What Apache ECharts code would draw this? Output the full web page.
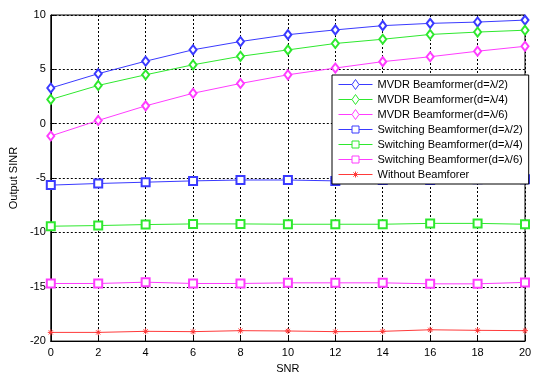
<!DOCTYPE html>
<html>
<head>
<meta charset="utf-8">
<script src="https://cdn.jsdelivr.net/npm/echarts@6/dist/echarts.min.js"></script>
<style>
  html, body { margin: 0; padding: 0; background: #fff; }
  #chart { width: 539px; height: 379px; }
</style>
</head>
<body>
<div id="chart"></div>
<script>
// SNR values (x axis)
const snr = [0, 2, 4, 6, 8, 10, 12, 14, 16, 18, 20];

// Output SINR per method
const mvdrL2 = [3.28, 4.6, 5.75, 6.8, 7.56, 8.19, 8.63, 9.02, 9.23, 9.35, 9.53];
const mvdrL4 = [2.23, 3.52, 4.5, 5.42, 6.2, 6.79, 7.38, 7.77, 8.21, 8.43, 8.6];
const mvdrL6 = [-1.13, 0.3, 1.64, 2.8, 3.7, 4.5, 5.12, 5.71, 6.16, 6.67, 7.12];
const switchL2 = [-5.65, -5.5, -5.38, -5.26, -5.18, -5.18, -5.26, -5.18, -5.18, -5.12, -5.12];
const switchL4 = [-9.43, -9.37, -9.28, -9.22, -9.22, -9.25, -9.25, -9.25, -9.17, -9.17, -9.25];
const switchL6 = [-14.7, -14.7, -14.58, -14.7, -14.7, -14.64, -14.64, -14.64, -14.73, -14.73, -14.6];
const noBeam = [-19.2, -19.2, -19.1, -19.13, -19.04, -19.07, -19.13, -19.1, -18.96, -19.01, -19.04];

const names = [
  'MVDR Beamformer(d=\u03bb/2)',
  'MVDR Beamformer(d=\u03bb/4)',
  'MVDR Beamformer(d=\u03bb/6)',
  'Switching Beamformer(d=\u03bb/2)',
  'Switching Beamformer(d=\u03bb/4)',
  'Switching Beamformer(d=\u03bb/6)',
  'Without Beamforer'
];
const colors = ['#3a3aff', '#2ee82e', '#ff3cff', '#3a3aff', '#2ee82e', '#ff3cff', '#ff3a3a'];

const starPath = 'path://M0,-10L0,10M-10,0L10,0M-7,-7L7,7M-7,7L7,-7';

// legend icons: line sample with the hollow marker in the middle
const iconDiamond = 'path://M0,5H13.5M20.5,5H34M17,0L20.5,5L17,10L13.5,5Z';
const iconRect = 'path://M0,5H13.5M20.5,5H34M13.5,1.5H20.5V8.5H13.5Z';
const iconStar = 'path://M0,5H34M17,2V8M14.9,2.9L19.1,7.1M14.9,7.1L19.1,2.9';
const legendIcons = [iconDiamond, iconDiamond, iconDiamond, iconRect, iconRect, iconRect, iconStar];

function mkSeries(idx, values, symbol, size) {
  const color = colors[idx];
  return {
    name: names[idx],
    type: 'line',
    data: snr.map((x, i) => [x, values[i]]),
    symbol: symbol,
    symbolSize: size,
    showAllSymbol: true,
    lineStyle: { color: color, width: 1 },
    itemStyle: { color: color, borderColor: color, borderWidth: 1 },
    emphasis: { disabled: true },
    animation: false
  };
}

const font = 'Liberation Sans, Arial, sans-serif';

const option = {
  backgroundColor: '#fff',
  animation: false,
  grid: {
    left: 49, right: 14, top: 15, bottom: 29,
    show: true, borderColor: '#000', borderWidth: 1
  },
  legend: {
    orient: 'vertical',
    left: 332, top: 75,
    padding: [4, 6, 4, 6],
    itemWidth: 34, itemHeight: 10, itemGap: 4,
    backgroundColor: '#fff',
    borderColor: '#000', borderWidth: 1,
    textStyle: { fontFamily: font, fontSize: 11, color: '#000' },
    data: names.map((n, i) => ({
      name: n,
      icon: legendIcons[i],
      itemStyle: { color: 'rgba(0,0,0,0)', borderColor: colors[i], borderWidth: 1 }
    }))
  },
  xAxis: {
    type: 'value', min: 0, max: 20, interval: 2,
    name: 'SNR', nameLocation: 'middle', nameGap: 21,
    nameTextStyle: { fontFamily: font, fontSize: 11, color: '#000' },
    axisLine: { show: true, onZero: false, lineStyle: { color: '#000' } },
    axisTick: { inside: true, length: 4, lineStyle: { color: '#000' } },
    axisLabel: { fontFamily: font, fontSize: 11, color: '#000', margin: 6 },
    splitLine: { show: true, lineStyle: { type: [2, 2], color: '#000' } }
  },
  yAxis: {
    type: 'value', min: -20, max: 10, interval: 5,
    name: 'Output SINR', nameLocation: 'middle', nameGap: 23,
    nameTextStyle: { fontFamily: font, fontSize: 11, color: '#000' },
    axisLine: { show: true, onZero: false, lineStyle: { color: '#000' } },
    axisTick: { inside: true, length: 4, lineStyle: { color: '#000' } },
    axisLabel: { fontFamily: font, fontSize: 11, color: '#000', margin: 5 },
    splitLine: { show: true, lineStyle: { type: [2, 2], color: '#000' } }
  },
  series: [
    mkSeries(0, mvdrL2, 'emptyDiamond', [7, 9]),
    mkSeries(1, mvdrL4, 'emptyDiamond', [7, 9]),
    mkSeries(2, mvdrL6, 'emptyDiamond', [7, 9]),
    mkSeries(3, switchL2, 'emptyRect', 8),
    mkSeries(4, switchL4, 'emptyRect', 8),
    mkSeries(5, switchL6, 'emptyRect', 8),
    mkSeries(6, noBeam, starPath, 6)
  ]
};

const chart = echarts.init(document.getElementById('chart'));
chart.setOption(option);
</script>
</body>
</html>
